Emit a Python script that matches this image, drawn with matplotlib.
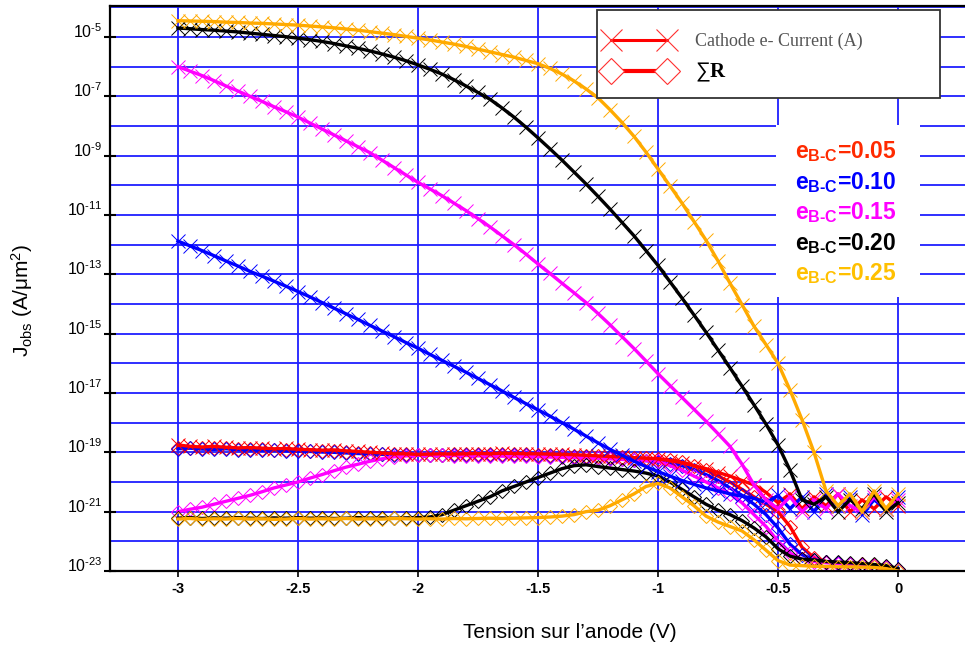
import numpy as np
import matplotlib
matplotlib.use('Agg')
import matplotlib.pyplot as plt
from matplotlib.lines import Line2D
from matplotlib.patches import Rectangle
from matplotlib.ticker import FixedLocator, NullFormatter, FuncFormatter
from matplotlib.transforms import ScaledTranslation

plt.rcParams['axes.unicode_minus'] = False
plt.rcParams['mathtext.fontset'] = 'custom'
plt.rcParams['mathtext.rm'] = 'Liberation Sans'
plt.rcParams['mathtext.it'] = 'Liberation Sans:italic'
plt.rcParams['mathtext.bf'] = 'Liberation Sans:bold'
plt.rcParams['font.family'] = ['Liberation Sans', 'DejaVu Sans']

# anode voltage sweep (V), 0.05 V step
V = np.round(np.arange(-3.0, 0.001, 0.05), 2)

# log10 of J_obs (A/um^2); rows: -3.00..-2.00 | -1.95..-1.00 | -0.95..0.00
# cathode e- current (x markers)
cath_005 = [-18.75, -18.80, -18.82, -18.80, -18.83, -18.85, -18.84, -18.86, -18.88, -18.87, -18.90,
            -18.91, -18.93, -18.92, -18.95, -18.97, -19.00, -19.02, -19.05, -19.05, -19.07,
            -19.06, -19.05, -19.06, -19.05, -19.04, -19.05, -19.03, -19.04, -19.05, -19.05,
            -19.06, -19.07, -19.08, -19.10, -19.12, -19.14, -19.16, -19.18, -19.20, -19.22,
            -19.28, -19.35, -19.45, -19.55, -19.68, -19.80, -19.95, -20.10, -20.35, -20.70,
            -20.40, -20.90, -20.50, -20.80, -20.40, -21.00, -20.60, -20.90, -20.50, -20.80]
cath_010 = [-11.88, -12.04, -12.20, -12.37, -12.55, -12.72, -12.90, -13.06, -13.23, -13.40, -13.58,
            -13.76, -13.95, -14.14, -14.33, -14.52, -14.72, -14.91, -15.10, -15.30, -15.49,
            -15.70, -15.90, -16.10, -16.30, -16.51, -16.72, -16.93, -17.15, -17.36, -17.57,
            -17.78, -18.00, -18.22, -18.45, -18.68, -18.90, -19.10, -19.30, -19.48, -19.65,
            -19.80, -19.95, -20.08, -20.20, -20.30, -20.40, -20.48, -20.55, -20.70, -20.45,
            -20.90, -20.50, -21.00, -20.40, -20.80, -20.50, -21.10, -20.60, -20.90, -20.50]
cath_015 = [-6.00, -6.15, -6.30, -6.47, -6.65, -6.82, -7.00, -7.17, -7.35, -7.52, -7.70,
            -7.90, -8.10, -8.30, -8.50, -8.70, -8.90, -9.15, -9.40, -9.65, -9.90,
            -10.12, -10.35, -10.60, -10.85, -11.12, -11.40, -11.70, -12.00, -12.32, -12.65,
            -12.97, -13.30, -13.62, -13.95, -14.32, -14.70, -15.10, -15.50, -15.92, -16.35,
            -16.75, -17.15, -17.55, -17.95, -18.37, -18.80, -19.40, -20.10, -20.60, -20.90,
            -20.50, -21.00, -20.60, -20.90, -20.40, -20.80, -21.00, -20.50, -20.90, -20.60]
cath_020 = [-4.70, -4.72, -4.75, -4.77, -4.80, -4.83, -4.87, -4.91, -4.95, -4.99, -5.04,
            -5.09, -5.15, -5.22, -5.30, -5.38, -5.47, -5.57, -5.68, -5.80, -5.94,
            -6.09, -6.25, -6.44, -6.65, -6.87, -7.10, -7.39, -7.70, -8.04, -8.40,
            -8.77, -9.15, -9.55, -9.95, -10.37, -10.80, -11.25, -11.70, -12.20, -12.70,
            -13.25, -13.80, -14.37, -14.95, -15.55, -16.15, -16.77, -17.40, -18.05, -18.75,
            -19.60, -20.60, -20.75, -20.50, -21.00, -20.60, -20.90, -20.40, -21.00, -20.70]
cath_025 = [-4.45, -4.46, -4.47, -4.48, -4.50, -4.51, -4.53, -4.54, -4.56, -4.58, -4.60,
            -4.63, -4.66, -4.69, -4.73, -4.77, -4.82, -4.87, -4.92, -4.98, -5.04,
            -5.10, -5.17, -5.24, -5.32, -5.41, -5.50, -5.59, -5.68, -5.79, -5.90,
            -6.06, -6.25, -6.48, -6.75, -7.05, -7.45, -7.88, -8.35, -8.88, -9.45,
            -10.02, -10.60, -11.22, -11.85, -12.55, -13.30, -14.02, -14.75, -15.37, -16.00,
            -16.90, -17.90, -19.00, -20.30, -20.80, -20.40, -21.00, -20.30, -20.90, -20.40]

# sum R (diamond markers)
sumr_005 = [-18.85, -18.84, -18.86, -18.87, -18.86, -18.88, -18.90, -18.89, -18.91, -18.92, -18.93,
            -18.95, -18.96, -18.97, -18.99, -19.01, -19.03, -19.05, -19.06, -19.07, -19.08,
            -19.08, -19.08, -19.07, -19.07, -19.06, -19.06, -19.06, -19.07, -19.07, -19.08,
            -19.09, -19.10, -19.11, -19.12, -19.14, -19.15, -19.16, -19.18, -19.20, -19.22,
            -19.25, -19.32, -19.45, -19.60, -19.80, -20.00, -20.25, -20.50, -20.75, -21.00,
            -21.50, -22.20, -22.55, -22.68, -22.72, -22.75, -22.78, -22.80, -22.85, -22.95]
sumr_010 = [-18.88, -18.86, -18.89, -18.90, -18.88, -18.91, -18.92, -18.93, -18.92, -18.95, -18.96,
            -18.97, -18.99, -19.00, -19.02, -19.04, -19.05, -19.07, -19.08, -19.09, -19.10,
            -19.10, -19.09, -19.09, -19.08, -19.08, -19.08, -19.09, -19.10, -19.10, -19.11,
            -19.12, -19.13, -19.15, -19.16, -19.18, -19.20, -19.22, -19.25, -19.28, -19.32,
            -19.38, -19.45, -19.58, -19.75, -19.95, -20.20, -20.45, -20.75, -21.10, -21.55,
            -22.10, -22.45, -22.62, -22.70, -22.74, -22.77, -22.80, -22.83, -22.88, -22.98]
sumr_015 = [-21.00, -20.92, -20.85, -20.75, -20.65, -20.55, -20.45, -20.33, -20.20, -20.10, -20.00,
            -19.87, -19.75, -19.62, -19.50, -19.40, -19.30, -19.22, -19.15, -19.12, -19.10,
            -19.10, -19.10, -19.11, -19.11, -19.12, -19.12, -19.13, -19.13, -19.14, -19.15,
            -19.16, -19.17, -19.18, -19.19, -19.20, -19.22, -19.24, -19.26, -19.28, -19.30,
            -19.45, -19.60, -19.80, -20.00, -20.20, -20.40, -20.70, -21.10, -21.50, -22.00,
            -22.40, -22.60, -22.68, -22.72, -22.75, -22.78, -22.80, -22.83, -22.88, -22.97]
sumr_020 = [-21.22, -21.20, -21.23, -21.21, -21.22, -21.20, -21.22, -21.23, -21.21, -21.22, -21.20,
            -21.22, -21.21, -21.23, -21.22, -21.20, -21.22, -21.21, -21.22, -21.21, -21.20,
            -21.18, -21.10, -20.95, -20.80, -20.65, -20.50, -20.30, -20.15, -20.00, -19.85,
            -19.70, -19.55, -19.45, -19.42, -19.48, -19.53, -19.58, -19.63, -19.70, -19.80,
            -20.00, -20.25, -20.50, -20.75, -20.95, -21.10, -21.30, -21.55, -21.85, -22.25,
            -22.50, -22.60, -22.63, -22.68, -22.70, -22.72, -22.75, -22.78, -22.82, -22.92]
sumr_025 = [-21.25, -21.23, -21.26, -21.24, -21.25, -21.23, -21.25, -21.24, -21.26, -21.25, -21.23,
            -21.25, -21.24, -21.25, -21.23, -21.25, -21.24, -21.25, -21.23, -21.24, -21.25,
            -21.24, -21.25, -21.23, -21.24, -21.23, -21.22, -21.23, -21.22, -21.21, -21.20,
            -21.18, -21.15, -21.10, -21.00, -20.95, -20.80, -20.60, -20.40, -20.15, -20.05,
            -20.20, -20.50, -20.80, -21.15, -21.35, -21.50, -21.65, -21.95, -22.30, -22.65,
            -22.80, -22.82, -22.84, -22.85, -22.86, -22.86, -22.87, -22.88, -22.92, -23.00]

labels = ['0.05', '0.10', '0.15', '0.20', '0.25']
line_colors = ['#ff0000', '#0000ff', '#ff00ff', '#000000', '#ffaa00']
text_colors = ['#ff2a00', '#0000ff', '#ff00ff', '#000000', '#ffc000']
cathode = [cath_005, cath_010, cath_015, cath_020, cath_025]
sum_r = [sumr_005, sumr_010, sumr_015, sumr_020, sumr_025]

W, H = 965, 650
AX_L, AX_R, AX_T, AX_B = 110, 965, 6, 571


def ax_frac(px, py):
    return (px - AX_L) / (AX_R - AX_L), (AX_B - py) / (AX_B - AX_T)


fig = plt.figure(figsize=(W / 100, H / 100), dpi=100)
ax = fig.add_axes([AX_L / W, 1 - AX_B / H, (AX_R - AX_L) / W, (AX_B - AX_T) / H])

for col, sy in zip(line_colors, sum_r):
    ax.plot(V, 10.0 ** np.array(sy), color=col, lw=2.4, marker='D', ms=7,
            mfc='none', mec=col, mew=0.7, zorder=2)
for col, cy in zip(line_colors, cathode):
    ax.plot(V, 10.0 ** np.array(cy), color=col, lw=2.4, marker='x', ms=10,
            mec=col, mew=0.7, zorder=2.2)

ax.set_yscale('log')
ax.set_xlim(-3.283, 0.279)
ax.set_ylim(1e-23, 10 ** -3.955)
ax.yaxis.set_major_locator(FixedLocator([10.0 ** e for e in range(-23, -4, 2)]))
ax.yaxis.set_minor_locator(FixedLocator([10.0 ** e for e in range(-22, -3, 2)]))
ax.yaxis.set_minor_formatter(NullFormatter())
ax.yaxis.set_major_formatter(FuncFormatter(lambda v, p: r'$10^{\text{%d}}$' % round(np.log10(v))))
ax.set_xticks([-3, -2.5, -2, -1.5, -1, -0.5, 0])
ax.set_xticklabels(['-3', '-2.5', '-2', '-1.5', '-1', '-0.5', '0'],
                   fontweight='bold', fontsize=10.5)

ax.set_axisbelow(True)
ax.grid(True, which='both', axis='y', color='#1f1fff', lw=1.3)
ax.grid(True, which='major', axis='x', color='#1f1fff', lw=1.3)
ax.tick_params(axis='y', which='major', direction='inout', length=9, width=1.5,
               labelsize=11.5, pad=1)
ax.tick_params(axis='y', which='minor', length=0)
ax.tick_params(axis='x', which='major', direction='out', length=4, width=1.2, pad=4)
for lab in ax.get_yticklabels():
    lab.set_transform(lab.get_transform() + ScaledTranslation(0, 5 / 72, fig.dpi_scale_trans))

for s in ['left', 'bottom', 'top']:
    ax.spines[s].set_linewidth(1.6)
    ax.spines[s].set_color('black')
ax.spines['right'].set_visible(False)

# white patch behind the e_B-C labels
x0, y0 = ax_frac(776, 297)
x1, y1 = ax_frac(920, 125)
ax.add_patch(Rectangle((x0, y0), x1 - x0, y1 - y0, transform=ax.transAxes,
                       facecolor='white', edgecolor='none', zorder=1))
for i, (lab, tc) in enumerate(zip(labels, text_colors)):
    tx, ty = ax_frac(795, 152 + i * 30.5)
    ax.text(tx, ty, 'e$_{\\mathbf{B\u2010C}}$=' + lab, transform=ax.transAxes,
            color=tc, fontsize=16.5, fontweight='bold', ha='left', va='center', zorder=3)

# legend box
bx0, by0 = ax_frac(597, 98)
bx1, by1 = ax_frac(940, 10)
ax.add_patch(Rectangle((bx0, by0), bx1 - bx0, by1 - by0, transform=ax.transAxes,
                       facecolor='white', edgecolor='#333333', lw=1.3, zorder=4))
handles = [Line2D([], [], color='red', lw=2.2, marker='x', ms=16, mew=0.8, mec='#ff3030'),
           Line2D([], [], color='red', lw=3, marker='D', ms=13, mfc='white', mec='#ff3030', mew=0.8)]
lx, ly = ax_frac(606, 33)
leg = ax.legend(handles, ['Cathode e- Current (A)', r'$\sum$R'], loc='upper left',
                bbox_to_anchor=(lx, ly), frameon=False, numpoints=2,
                prop={'family': 'Liberation Serif', 'size': 13},
                handlelength=3.67, handletextpad=1.28, labelspacing=0.6,
                borderpad=0, borderaxespad=0)
leg.set_zorder(5)
leg.get_texts()[0].set_color('#555555')
leg.get_texts()[1].set_fontweight('bold')
leg.get_texts()[1].set_fontsize(15)

fig.text(22 / W, 1 - 300 / H, r'J$_{\mathregular{obs}}$ (A/$\mathregular{\mu}$m$^{\mathregular{2}}$)',
         rotation=90, ha='center', va='center', fontsize=15)
fig.text(570 / W, 1 - 632 / H, 'Tension sur l\u2019anode (V)', ha='center', va='center',
         fontsize=15)

fig.savefig('out.png', dpi=100)
